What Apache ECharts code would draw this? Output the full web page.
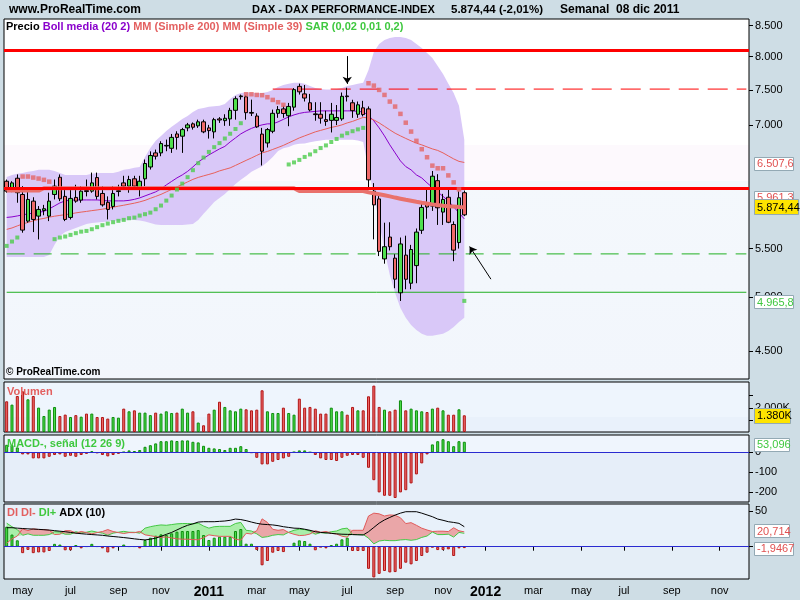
<!DOCTYPE html>
<html>
<head>
<meta charset="utf-8">
<title>DAX</title>
<script src="https://cdn.jsdelivr.net/npm/echarts@6.0.0/dist/echarts.min.js"></script>
<style>
html,body{margin:0;padding:0;background:#cedde5;overflow:hidden;}
#chart{width:800px;height:600px;}
</style>
</head>
<body>
<div id="chart"></div>
<script>
// ---------- axis categories / ticks ----------
const weekCount = 140;
const firstWeek = '2010-04-15';
const tickWeekIndex = [3,12,21,29,38,47,55,64,73,82,90,99,108,116,125,134];
const tickWeekLabel = ['may','jul','sep','nov','2011','mar','may','jul','sep','nov','2012','mar','may','jul','sep','nov'];
const priceTicks = [4500,5000,5500,7000,7500,8000,8500];
const volumeTicks = [1000,2000,3000];
const volumeLabelTicks = [2000];
const macdTicks = [-200,-100,0];
const diTicks = [0,50];

// ---------- weekly candles ----------
const open = [6273,6153,6310,6113,5803,6034,5860,5925,5860,6113,
6322,6090,5845,6078,6046,6160,6153,6318,6125,6020,
5972,6148,6253,6213,6303,6190,6303,6450,6630,6630,
6720,6690,6880,6850,6962,7017,6990,7045,6962,6908,
7085,7061,7085,7205,7400,7398,7175,7125,6878,6760,
6916,7163,7225,7129,7250,7550,7440,7312,7155,7150,
7075,7065,7065,7085,7410,7312,7150,7240,7225,6153,
6060,5390,5625,5398,5045,5430,5140,5320,5700,5995,
5976,6280,5906,6080,5765,5565,6134];
const high = [6294,6273,6357,6213,6200,6080,5976,5990,6134,6294,
6357,6173,6173,6230,6213,6294,6380,6380,6213,6090,
6213,6230,6340,6340,6340,6340,6545,6650,6673,6783,
6805,6880,6916,6962,7030,7036,7075,7075,7003,7100,
7110,7150,7240,7405,7430,7420,7357,7163,6962,6960,
7215,7265,7270,7310,7525,7590,7570,7440,7320,7320,
7200,7310,7280,7460,7530,7355,7330,7340,7260,6250,
6100,5785,5790,5440,5620,5640,5540,5720,6000,6190,
6400,6360,6120,6180,5800,6150,6160];
const low = [6134,6141,6015,5673,5785,5680,5599,5870,5803,6054,
6034,5803,5822,6015,6015,6090,6134,6054,5970,5822,
5937,6090,6173,6134,6173,6090,6213,6418,6545,6587,
6652,6630,6673,6630,6916,6939,6962,6890,6818,6820,
7030,6990,6990,7075,7357,7075,7125,6962,6469,6700,
6890,7100,7100,6985,7200,7430,7330,7190,7060,7020,
6990,6900,7000,7060,7330,7100,7100,7120,6170,5600,
5420,5340,5480,5090,4965,5080,5080,5140,5660,5830,
5920,5760,5760,5780,5366,5500,5860];
const close = [6153,6253,6134,5702,6054,5822,5937,5945,6034,6213,
6062,5822,6066,6034,6153,6148,6253,6090,5990,5937,
6125,6158,6213,6294,6213,6273,6494,6596,6587,6752,
6728,6834,6834,6939,7003,6971,7045,6908,6925,7075,
7070,7094,7205,7370,7410,7172,7165,6976,6652,6939,
7163,7215,7160,7260,7502,7470,7380,7210,7145,7095,
7050,7150,7105,7405,7400,7200,7283,7145,6290,5990,
5470,5520,5520,5181,5550,5180,5490,5680,5960,5965,
6335,5956,6054,5790,5483,6074,5874.44];

// ---------- price indicators ----------
const bbUpper = [6326,6351,6364,6376,6389,6401,6414,6414,6414,6401,
6376,6351,6351,6351,6351,6351,6364,6376,6376,6376,
6376,6389,6414,6426,6439,6451,6578,6695,6788,6854,
6921,6976,7030,7085,7127,7183,7225,7239,7254,7261,
7268,7296,7367,7425,7454,7461,7454,7454,7454,7469,
7498,7542,7572,7587,7602,7602,7587,7557,7527,7513,
7505,7505,7513,7527,7557,7572,7587,7602,7797,8074,
8201,8266,8298,8314,8314,8298,8266,8201,8137,8058,
7981,7858,7736,7587,7454,7268,6801];
const bbMiddle = [5845,5851,5862,5874,5886,5894,5903,5914,5943,5978,
6013,6037,6045,6048,6048,6048,6048,6048,6043,6037,
6037,6037,6037,6043,6055,6072,6096,6120,6144,6180,
6228,6271,6314,6351,6395,6451,6514,6559,6604,6643,
6682,6715,6774,6827,6881,6921,6955,6983,7003,7017,
7017,7044,7079,7113,7141,7162,7176,7183,7190,7197,
7197,7197,7197,7197,7197,7197,7190,7183,7134,7058,
6962,6854,6735,6630,6527,6455,6414,6351,6314,6253,
6198,6144,6090,6037,5967,5897,5828];
const bbLower = [5411,5411,5411,5411,5411,5411,5411,5411,5432,5540,
5638,5682,5704,5726,5749,5771,5783,5788,5794,5800,
5806,5806,5811,5817,5817,5811,5800,5783,5766,5760,
5760,5760,5760,5760,5766,5771,5817,5886,5955,6025,
6072,6120,6180,6240,6290,6339,6389,6426,6458,6514,
6578,6656,6689,6708,6735,6748,6754,6768,6781,6794,
6801,6801,6801,6801,6801,6801,6794,6774,6414,6108,
5794,5486,5224,5044,4898,4804,4738,4692,4656,4638,
4638,4647,4656,4683,4720,4766,4804];
const ma39 = [5710,5726,5749,5771,5788,5806,5823,5834,5848,5859,
5868,5877,5885,5897,5906,5914,5923,5931,5940,5951,
5963,5975,5986,5998,6010,6025,6043,6067,6090,6114,
6144,6174,6204,6234,6265,6296,6320,6339,6357,6376,
6401,6420,6439,6470,6502,6534,6565,6598,6630,6649,
6675,6701,6728,6761,6794,6827,6854,6881,6908,6928,
6948,6969,6983,7003,7030,7051,7079,7106,7099,7071,
7030,6983,6935,6890,6854,6820,6788,6757,6735,6708,
6682,6662,6630,6591,6553,6521,6507.6];
const ma200 = [6160,6160,6160,6160,6160,6160,6160,6188,6188,6188,
6188,6188,6188,6188,6188,6188,6188,6188,6188,6188,
6188,6188,6188,6188,6188,6188,6188,6188,6188,6188,
6188,6188,6188,6188,6188,6188,6188,6188,6188,6188,
6188,6188,6188,6188,6188,6188,6188,6188,6188,6188,
6188,6188,6188,6188,6188,6155,6155,6155,6155,6155,
6155,6155,6155,6155,6155,6155,6155,6155,6140,6128,
6116,6104,6090,6076,6063,6050,6038,6026,6015,6005,
5996,5988,5981,5975,5970,5965,5961.3];
const sar = [5529,5576,5620,6331,6331,6318,6306,6290,6268,5602,
5620,5631,5649,5668,5685,5693,5712,5735,5757,5775,
5791,5806,5817,5836,5843,5866,5882,5900,5939,5982,
6040,6100,6172,6244,6323,6410,6498,6570,6643,6705,
6758,6819,6883,6947,7026,7435,7435,7425,7421,7392,
7353,7320,7282,6482,6508,6540,6578,6610,6652,6693,
6728,6773,6813,6857,6890,6917,6942,6962,7596,7561,
7498,7425,7329,7258,7155,7033,6912,6788,6678,6574,
6467,6434,6434,6345,6259,6174,4965.8];

// ---------- lower panels ----------
const volume = [2536,2260,2974,3360,2700,2974,2015,1322,1850,2067,
1322,1437,1240,1395,1267,1520,1520,1240,1240,1108,
1240,1185,1930,1710,1790,1600,1600,1395,1600,1520,
1710,1570,1600,1930,1600,1710,780,555,1520,1845,
2500,2070,1790,1710,1930,1875,1790,1845,3445,1710,
1570,1570,2010,1570,1430,2755,2010,2070,1930,1520,
1520,2010,1710,1710,1430,2070,1790,1790,2950,3830,
2070,1845,1710,1845,2618,1790,1930,1790,1710,1650,
1930,2010,1790,1430,1430,1875,1380];
const macdHist = [38,36,25,-10,-10,-30,-30,-30,-22,-13,
-10,-22,-17,-22,-13,-7,6,-3,-13,-20,
-13,-7,2,10,7,12,28,36,45,56,
56,60,57,60,60,53,50,33,23,20,
17,12,23,23,31,17,-2,-27,-60,-60,
-47,-38,-30,-22,2,10,10,1,-13,-30,
-38,-38,-43,-27,-17,-13,-13,-27,-77,-139,
-200,-217,-217,-228,-200,-189,-155,-110,-55,-10,
40,56,66,56,31,56,53.096];
const diHist = [28,17,9,-9,-4.5,-9,-8,-8,-6,4,
3,-5,-5,2.4,-2.3,0.5,4,0.5,-2.3,-8,
-2.3,0.5,3,0.5,0.5,-2.3,9.4,12.6,15.4,17.3,
16.4,18.7,21,22,22,22,23.3,16.4,9.4,12.6,
14,14,14,22,24.8,4.2,4.2,-4.5,-26,-20,
-8.4,-6,-7.5,0.5,5.6,8.9,8,4.2,-5,-0.5,
-2.3,2.3,4.2,10.3,12.6,-6,-6,-6,-31,-43,
-38,-34,-36,-35.5,-31,-22.4,-24.7,-20,-13,-8.4,
-0.8,-4.7,-4.7,-3.7,-13,-2.3,-1.9467];
const diPlus = [33,28,24,16,18,16,16,16,17,21,
20.5,17.5,17.5,21,19,20.3,22,20.3,19,16,
19,20.3,21.5,20.3,20.2,19,26,28,29.5,30.5,
30,31,32,32.5,32.5,32,33,29,26,28,
28.5,28.5,28.5,32.5,34,23,22,18,13,14,
16,17,16.5,20.3,23,24.5,24,22,17.5,19.7,
19,21,22,25,26,17,17,17,12,4,
8,9,8.5,8.5,9.5,10,9,10,13,15,
20.5,17,17,17.5,13.5,20,18.77];
const diMinus = [5,11,15,25,22.5,25,24,24,23,17,
17.5,22.5,22.5,18.6,21.3,19.8,18,19.8,21.3,24,
21.3,19.8,18.5,19.8,19.7,21.3,16.6,15.4,14.1,13.2,
13.6,12.3,11,10.5,10.5,10,9.7,12.6,16.6,15.4,
14.5,14.5,14.5,10.5,9.2,18.8,17.8,22.5,39,34,
24.4,23,24,19.8,17.4,15.6,16,17.8,22.5,20.2,
21.3,18.7,17.8,14.7,13.4,23,23,23,43,47,
46,43,44.5,44,40.5,32.4,33.7,30,26,23.4,
21.3,21.7,21.7,21.2,26.5,22.3,20.714];
const adx = [26.6,26.6,26,25.5,25,24.7,24.3,23.8,23.3,22.5,
21.7,21,20,19,18.2,17.6,17,16.5,16,15,
14.3,13.6,12.8,12,11,10.2,9.5,10.5,12,14.5,
17.3,20,23.5,27,30,32,34.5,35,35,35,
35.5,36,37,38.7,38,36.5,34.5,32.7,31.5,31,
30.5,29.5,28,27,26,25.7,24.5,23,21,20,
19.5,18.7,18,17.5,17.3,17,16.7,16.4,21,27,
33,37.5,41,44.3,47,49,49,49,47,44.5,
42,38.7,37,35,34,32.7,28];

// ---------- drawn levels and arrows ----------
const redLevels = [8075, 6155];
const redDashLevel = 7510;
const redDashStartWeek = 50;
const greenDashLevel = 5443;
const greenLevel = 5050;
const arrowTail = [[64, 8010], [91, 5181]];
const arrowHead = [[64, 7587], [87, 5522]];

// ================= build =================
const FONT = 'Liberation Sans, Arial, sans-serif';
const cats = [];
(function(){ let t = Date.parse(firstWeek + 'T00:00:00Z'); for (let i = 0; i < weekCount; i++) { cats.push(new Date(t).toISOString().slice(0,10)); t += 7*864e5; } })();
const tickMap = {}; tickWeekIndex.forEach((k,j)=>{ tickMap[k] = tickWeekLabel[j]; });
const L = v => Math.log(v);
const n = close.length;
const isUp = i => close[i] >= open[i];

function eu(v, d) {
  const s = Math.abs(v).toFixed(d); let parts = s.split('.');
  let ip = parts[0].replace(/\B(?=(\d{3})+(?!\d))/g, '.');
  return (v < 0 ? '-' : '') + ip + (parts[1] ? ',' + parts[1] : '');
}
// a horizontal level drawn as a two-point line between two weeks
function levelData(value, fromWeek, toWeek) {
  const d = new Array(weekCount).fill('-');
  d[fromWeek] = L(value); d[toWeek] = L(value);
  return d;
}

const barGreen = {color:'#4fe04f', borderColor:'#0c8c0c', borderWidth:1};
const barRed = {color:'#f06a6a', borderColor:'#b01414', borderWidth:1};

const lnMin = 8.35776, lnMax = 9.06089;

const xAxes = [0,1,2,3].map(g => ({
  type:'category', gridIndex:g, data:cats, boundaryGap:true,
  axisLine:{show:false}, axisTick:{show:false}, axisLabel:{show:false}, splitLine:{show:false}
}));
xAxes[3].axisTick = {show:true, alignWithLabel:true, interval:(i)=> tickMap[i] !== undefined, length:4, lineStyle:{color:'#000', width:1}};
xAxes[3].axisLabel = {show:true, interval:(i)=> tickMap[i] !== undefined, margin:6, color:'#000', fontSize:11, fontFamily:FONT,
  formatter:(v, i) => { const t = tickMap[i]; if (t === undefined) return ''; return /^\d{4}$/.test(t) ? '{b|' + t + '}' : t; },
  rich:{b:{fontSize:14, fontWeight:'bold', color:'#000', fontFamily:FONT}}};

function rightAxis(g, min, max, ticks, labels, fmt) {
  return {type:'value', gridIndex:g, position:'right', min:min, max:max,
    axisLine:{show:false}, splitLine:{show:false},
    axisTick:{show:true, length:4, customValues:ticks, lineStyle:{color:'#000'}},
    axisLabel:{show:true, customValues:labels, formatter:fmt, margin:6, color:'#000', fontSize:11, fontFamily:FONT}};
}
const yAxes = [
  rightAxis(0, lnMin, lnMax, priceTicks.map(L), priceTicks.map(L), v => eu(Math.round(Math.exp(v)), 0)),
  rightAxis(1, 0, 4130, volumeTicks, volumeLabelTicks, v => eu(v,0) + 'K'),
  rightAxis(2, -248, 87, macdTicks, macdTicks, v => String(v)),
  rightAxis(3, -45.2, 59.8, diTicks, diTicks, v => String(v))
];

const mainBg = {type:'linear', x:0, y:0, x2:0, y2:1, colorStops:[
  {offset:0, color:'#ffffff'}, {offset:0.35, color:'#ffffff'},
  {offset:0.35, color:'#fdf9fd'}, {offset:0.45, color:'#fdf9fd'},
  {offset:0.45, color:'#f4f8fc'}, {offset:1, color:'#f2f6fc'}]};
const subBg = (a, b, s) => ({type:'linear', x:0, y:0, x2:0, y2:1, colorStops:[
  {offset:0, color:a}, {offset:s, color:a}, {offset:s, color:b}, {offset:1, color:b}]});

const grids = [
  {left:4, top:19, width:745, height:360, backgroundColor:mainBg},
  {left:4, top:382, width:745, height:50, backgroundColor:subBg('#eef5fd','#e9f1fb',0.7)},
  {left:4, top:435, width:745, height:67, backgroundColor:subBg('#eff5fd','#e6eef9',0.26)},
  {left:4, top:504, width:745, height:75, backgroundColor:subBg('#e8f1fa','#e5eef7',0.57)}
].map(g => Object.assign(g, {show:true, borderColor:'#000', borderWidth:1, outerBoundsMode:'none', containLabel:false}));

const lineS = (data, color, width, z, extra) => Object.assign({type:'line', xAxisIndex:0, yAxisIndex:0, data:data,
  symbol:'none', silent:true, lineStyle:{color:color, width:width}, z:z}, extra || {});
const mk = (lineStyle, data, z) => ({silent:true, symbol:['none','none'], label:{show:false}, z:z, animation:false,
  lineStyle:lineStyle, data:data});

const diBase = diPlus.map((p,i) => Math.min(p, diMinus[i]));
const diGreen = diPlus.map((p,i) => Math.max(p - diMinus[i], 0));
const diRed = diMinus.map((m,i) => Math.max(m - diPlus[i], 0));

const series = [
  // Bollinger band fill
  lineS(bbLower.map(L), '#d8c8f8', 0, 1, {stack:'bb', lineStyle:{width:0, opacity:0}}),
  lineS(bbUpper.map((u,i) => L(u) - L(bbLower[i])), '#d8c8f8', 0, 1, {stack:'bb', lineStyle:{width:0, opacity:0}, areaStyle:{color:'#d9c8f8', opacity:1}}),
  // drawn support / resistance levels
  lineS(levelData(greenDashLevel, 0, weekCount-1), '#22b022', 1, 2, {connectNulls:true, itemStyle:{color:'#22b022'}, lineStyle:{color:'#22b022', width:1, type:[18,9]}}),
  lineS(levelData(greenLevel, 0, weekCount-1), '#22b022', 1, 2, {connectNulls:true, itemStyle:{color:'#22b022'}, lineStyle:{color:'#22b022', width:1, type:'solid'}}),
  lineS(levelData(redDashLevel, redDashStartWeek, weekCount-1), '#ff0000', 1, 2, {connectNulls:true, itemStyle:{color:'#ff0000'}, lineStyle:{color:'#ff0000', width:1, type:[20,9]}}),
  lineS(bbMiddle.map(L), '#8a00cc', 1, 3),
  lineS(ma39.map(L), '#e8605a', 1, 3),
  {type:'candlestick', xAxisIndex:0, yAxisIndex:0, barWidth:4, silent:true, z:5,
    data: open.map((o,i) => [L(o), L(close[i]), L(low[i]), L(high[i])]),
    itemStyle:{color:'#4fe04f', color0:'#f06a6a', borderColor:'#000', borderColor0:'#000', borderWidth:1}},
  lineS(ma200.map(L), '#e9716c', 4, 6, {
    markLine: mk({color:'#ff0000', width:3, type:'solid'}, redLevels.map(v => ({yAxis:L(v), lineStyle:{color:'#ff0000', width:3, type:'solid'}})), 7)}),
  {type:'scatter', xAxisIndex:0, yAxisIndex:0, silent:true, z:8, symbol:'rect', symbolSize:4,
    data: sar.map((s,i) => s < close[i] ? L(s) : '-'), itemStyle:{color:'#4ccc4c'},
    markLine:{silent:true, symbol:['none','arrow'], symbolSize:7, label:{show:false}, z:9, animation:false,
      lineStyle:{color:'#000', width:1, type:'solid'},
      data: arrowTail.map((t,k) => [{coord:[t[0], L(t[1])]}, {coord:[arrowHead[k][0], L(arrowHead[k][1])]}])}},
  {type:'scatter', xAxisIndex:0, yAxisIndex:0, silent:true, z:8, symbol:'rect', symbolSize:4.5,
    data: sar.map((s,i) => s >= close[i] ? L(s) : '-'), itemStyle:{color:'#e36565'}},
  // volume
  {type:'bar', xAxisIndex:1, yAxisIndex:1, barWidth:3, silent:true,
    data: volume.map((v,i) => ({value:v, itemStyle: isUp(i) ? barGreen : barRed}))},
  // MACD histogram
  {type:'bar', xAxisIndex:2, yAxisIndex:2, barWidth:3, silent:true,
    data: macdHist.map(v => ({value:v, itemStyle: v >= 0 ? barGreen : barRed})),
    markLine: mk({color:'#2a2ad0', width:1, type:'solid'}, [{yAxis:0}], 6)},
  // DI panel
  {type:'line', xAxisIndex:3, yAxisIndex:3, stack:'di', data:diBase, symbol:'none', silent:true, lineStyle:{width:0, opacity:0}, z:1},
  {type:'line', xAxisIndex:3, yAxisIndex:3, stack:'di', data:diGreen, symbol:'none', silent:true, lineStyle:{width:0, opacity:0}, areaStyle:{color:'#a9eea9', opacity:1}, z:1},
  {type:'line', xAxisIndex:3, yAxisIndex:3, stack:'di', data:diRed, symbol:'none', silent:true, lineStyle:{width:0, opacity:0}, areaStyle:{color:'#eaa6a8', opacity:1}, z:1},
  {type:'bar', xAxisIndex:3, yAxisIndex:3, barWidth:3, silent:true, z:3,
    data: diHist.map(v => ({value:v, itemStyle: v >= 0 ? barGreen : barRed})),
    markLine: mk({color:'#2a2ad0', width:1, type:'solid'}, [{yAxis:0}], 6)},
  {type:'line', xAxisIndex:3, yAxisIndex:3, data:diPlus, symbol:'none', silent:true, lineStyle:{color:'#44c844', width:1}, z:4},
  {type:'line', xAxisIndex:3, yAxisIndex:3, data:diMinus, symbol:'none', silent:true, lineStyle:{color:'#e05a5a', width:1}, z:4},
  {type:'line', xAxisIndex:3, yAxisIndex:3, data:adx, symbol:'none', silent:true, lineStyle:{color:'#000', width:1}, z:5}
];

const tBold = (s) => ({fontSize:s || 12, fontWeight:'bold', color:'#000', fontFamily:FONT});
const tNorm = (c, s) => ({fontSize:s || 11, color:c, fontFamily:FONT});
const titles = [
  {text:'www.ProRealTime.com', left:9, top:4, padding:0, textStyle:tBold(12)},
  {text:'DAX - DAX PERFORMANCE-INDEX', left:252, top:4, padding:0, textStyle:tBold(11)},
  {text:'5.874,44 (-2,01%)', left:451, top:4, padding:0, textStyle:tBold(11.5)},
  {text:'Semanal  08 dic 2011', left:560, top:4, padding:0, textStyle:tBold(12)},
  {text:'{k|Precio} {p|Boll media (20 2)} {r|MM (Simple 200)} {r|MM (Simple 39)} {g|SAR (0,02 0,01 0,2)}', left:6, top:21, padding:0,
    textStyle:{fontSize:11, fontFamily:FONT, rich:{k:tNorm('#000'), p:tNorm('#8a00cc'), r:tNorm('#e36060'), g:tNorm('#3fc83f')}}},
  {text:'© ProRealTime.com', left:6, top:367, padding:0, textStyle:tNorm('#000', 10)},
  {text:'Volumen', left:7, top:386, padding:0, textStyle:tNorm('#e36060')},
  {text:'MACD-, señal (12 26 9)', left:7, top:438, padding:0, textStyle:tNorm('#3fc83f')},
  {text:'{r|DI DI-} {g|DI+} {k|ADX (10)}', left:7, top:507, padding:0,
    textStyle:{fontSize:11, fontFamily:FONT, rich:{k:tNorm('#000'), r:tNorm('#e36060'), g:tNorm('#3fc83f')}}}
];

const chart = echarts.init(document.getElementById('chart'), null, {renderer:'canvas'});
chart.setOption({
  animation:false,
  backgroundColor:'#cedde5',
  textStyle:{fontFamily:FONT},
  title:titles,
  grid:grids,
  xAxis:xAxes,
  yAxis:yAxes,
  series:series
});

// ---------- value boxes at the right edge (positions from the axes' scales) ----------
const last = n - 1;
const boxes = [
  {axis:0, v:L(ma39[last]), text:eu(ma39[last],1), color:'#e05050', bg:'#ffffff', dy:1, w:39},
  {axis:0, v:L(ma200[last]), text:eu(ma200[last],1), color:'#e05050', bg:'#ffffff', dy:-10, w:39},
  {axis:0, v:L(close[last]), text:eu(close[last],2), color:'#000000', bg:'#ffe400', dy:-8, w:44},
  {axis:0, v:L(sar[last]), text:eu(sar[last],1), color:'#3fc83f', bg:'#ffffff', dy:1, w:39},
  {axis:1, v:volume[last], text:eu(volume[last],0) + 'K', color:'#000000', bg:'#ffe400', dy:0, w:36},
  {axis:2, v:macdHist[last], text:eu(macdHist[last],3), color:'#3fc83f', bg:'#ffffff', dy:2.6, w:35},
  {axis:3, v:diMinus[last], text:eu(diMinus[last],3), color:'#e05050', bg:'#ffffff', dy:-1, w:35},
  {axis:3, v:diHist[last], text:eu(diHist[last],4), color:'#e05050', bg:'#ffffff', dy:0, w:39}
];
const gfx = [];
boxes.forEach((b, k) => {
  const cy = chart.convertToPixel({yAxisIndex:b.axis}, b.v) + b.dy;
  const h = b.bg === '#ffe400' ? 15 : 13;
  gfx.push({type:'rect', z:100+k*2, shape:{x:754.5, y:Math.round(cy - h/2)+0.5, width:b.w, height:h},
    style:{fill:b.bg, stroke:'#93a9b4', lineWidth:1}});
  gfx.push({type:'text', z:101+k*2, style:{text:b.text, x:757, y:Math.round(cy)+1, fill:b.color,
    font:'11px ' + FONT, align:'left', verticalAlign:'middle', textAlign:'left', textVerticalAlign:'middle'}});
});
chart.setOption({graphic:gfx});
</script>
</body>
</html>
